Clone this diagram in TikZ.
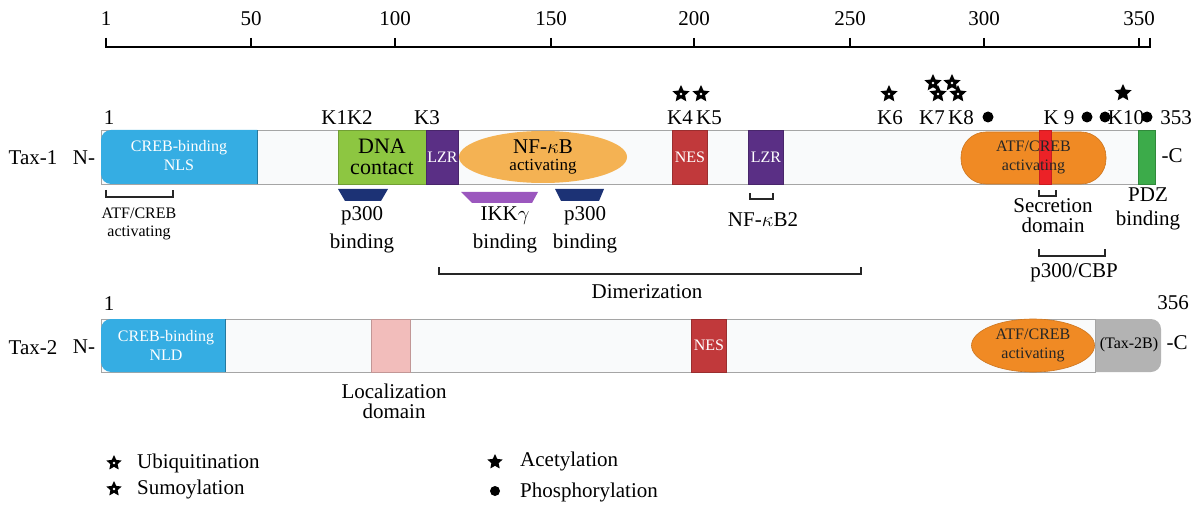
\documentclass[tikz,border=0pt]{standalone}
\usepackage{fontspec}
\setmainfont{Liberation Serif}
\usetikzlibrary{shapes.geometric,shapes.misc}
\definecolor{creb}{HTML}{35ADE3}
\definecolor{dna}{HTML}{8DC641}
\definecolor{lzr}{HTML}{5A2F85}
\definecolor{nfkb}{HTML}{F4B253}
\definecolor{nes}{HTML}{C1393B}
\definecolor{atf}{HTML}{F08A24}
\definecolor{secr}{HTML}{EC2227}
\definecolor{pdz}{HTML}{3CAB4A}
\definecolor{navy}{HTML}{1C3275}
\definecolor{ikk}{HTML}{9B57BE}
\definecolor{loc}{HTML}{F2BDBB}
\definecolor{tbb}{HTML}{B3B3B3}
\definecolor{barfill}{HTML}{F9FAFB}
\definecolor{barline}{HTML}{A5A5A5}
\newcommand\fMain{\fontsize{21}{26}\selectfont}
\newcommand\fSmall{\fontsize{16}{19}\selectfont}
\tikzset{
  segbox/.style={rectangle, inner sep=0pt, minimum height=54pt, line width=0.8pt},
  lbl/.style={inner sep=0pt, align=center},
  wtxt/.style={text=white, font=\fSmall, align=center, inner sep=0pt},
  ubq/.style={star, star points=5, star point ratio=2.1, fill=black, minimum size=18pt, inner sep=0pt},
  ubqin/.style={circle, fill=white, minimum size=2.6pt, inner sep=0pt},
  acet/.style={star, star points=5, star point ratio=2.1, fill=black, minimum size=18pt, inner sep=0pt},
  phos/.style={circle, fill=black, minimum size=11pt, inner sep=0pt},
  brk/.style={line width=1.2pt, black!85},
  axis/.style={line width=1.4pt, black},
}
\begin{document}
\begin{tikzpicture}[x=1pt, y=-1pt, font=\fMain]
\useasboundingbox (0,0) rectangle (1199,505);

% ---------- scale axis ----------
\draw[axis] (106,38) -- (106,47) -- (1150,47) -- (1150,38);
\foreach \x/\l in {106/1, 251/50, 395/100, 551/150, 694/200, 850/250, 984/300, 1139/350}{
  \draw[axis] (\x,38) -- (\x,47);
  \node[lbl] (tick\l) at (\x,19) {\l};
}

% ---------- Tax-1 ----------
\node[lbl] (tax1) at (33,158) {Tax-1};
\node[lbl] (n1) at (84,158) {N-};
\node[segbox, anchor=north west, draw=barline, fill=barfill, line width=1.2pt,
      minimum width=1037pt] (bar1) at (101,130) {};
\fill[creb] (257,130) [rounded corners=10pt] -- (101,130) -- (101,184) [sharp corners] -- (257,184) -- cycle;
\draw[creb!70!black, line width=0.8pt] (257,130) -- (257,184);
\node[wtxt] (nls) at (179,156) {CREB-binding\\NLS};
\node[segbox, anchor=west, fill=dna, draw=dna!80!black, minimum width=88pt] (dnac) at (338,157) {};
\node[lbl, font=\fontsize{22}{21}\selectfont] (dnat) at (382,157) {DNA\\contact};
\node[segbox, anchor=west, fill=lzr, draw=lzr!80!black, minimum width=32pt] (lzr1) at (426,157) {};
\node[wtxt] at (lzr1) {LZR};
\node[ellipse, fill=nfkb, minimum width=168pt, minimum height=52pt, inner sep=0pt] (nfkb) at (543,157) {};
\node[lbl, font=\fontsize{21}{20}\selectfont] (nfkbt) at (543,147) {NF-$\kappa$B};
\node[lbl, font=\fontsize{17}{17}\selectfont] (nfkba) at (543,167) {activating};
\node[segbox, anchor=west, fill=nes, draw=nes!80!black, minimum width=35pt] (nes1) at (672,157) {};
\node[wtxt] at (nes1) {NES};
\node[segbox, anchor=west, fill=lzr, draw=lzr!80!black, minimum width=35pt] (lzr2) at (748,157) {};
\node[wtxt] at (lzr2) {LZR};
\node[rectangle, rounded corners=25pt, fill=atf, draw=atf!85!black, line width=0.6pt,
      minimum width=145pt, minimum height=52pt, inner sep=0pt] (atf1) at (1033.5,158) {};
\node[segbox, anchor=west, fill=secr, draw=secr!85!black, minimum width=12pt] (secr) at (1039,157) {};
\node[lbl, font=\fSmall, text=black!85] (atf1t) at (1033.5,157) {ATF/CREB\\activating};
\node[segbox, anchor=west, fill=pdz, draw=pdz!80!black, minimum width=17pt] (pdz) at (1138,157) {};
\node[lbl] (c1) at (1172,156) {-C};

% labels above Tax-1
\node[lbl] (one1) at (109,118) {1};
\node[lbl] (k12) at (347,118) {K1K2};
\node[lbl] (k3) at (427,118) {K3};
\node[lbl] (k4) at (680,118) {K4};
\node[lbl] (k5) at (709,118) {K5};
\node[lbl] (k6) at (890,118) {K6};
\node[lbl] (k7) at (932,118) {K7};
\node[lbl] (k8) at (961,118) {K8};
\node[lbl] (k9) at (1059,118) {K 9};
\node[lbl] (k10) at (1126,118) {K10};
\node[lbl] (e353) at (1176,118) {353};

% modification marks
\foreach \n/\x/\y in {a/681/94, b/701/94, c/889/94, d/933/83, e/952/83, f/938/94, g/958/94}{
  \node[ubq] (st\n) at (\x,\y) {};
  \node[ubqin] at (st\n.center) {};
}
\node[acet] (stk10) at (1123,93) {};
\foreach \n/\x in {1/988, 2/1087, 3/1105, 4/1147}{
  \node[phos] (ph\n) at (\x,117) {};
}

% below Tax-1
\fill[navy] (338,189) -- (388,189) -- (381,201) -- (345,201) -- cycle;
\fill[ikk] (461,192) -- (538,192) -- (532,203) -- (472,203) -- cycle;
\fill[navy] (555,189) -- (604,189) -- (599,201) -- (561,201) -- cycle;
\node[lbl, font=\fontsize{21}{28}\selectfont] (p300a) at (362,230) {p300\\binding};
\node[lbl, font=\fontsize{21}{28}\selectfont] (ikkg) at (505,230) {IKK$\gamma$\\binding};
\node[lbl, font=\fontsize{21}{28}\selectfont] (p300b) at (585,230) {p300\\binding};

\draw[brk] (106,190) -- (106,197) -- (173,197) -- (173,190);
\node[lbl, font=\fontsize{16}{18}\selectfont] (atfl) at (139,224) {ATF/CREB\\activating};

\draw[brk] (750,193) -- (750,199) -- (773,199) -- (773,193);
\node[lbl] (nfkb2) at (763,220) {NF-$\kappa$B2};

\draw[brk] (1039,190) -- (1039,196) -- (1056,196) -- (1056,190);
\node[lbl, font=\fontsize{21}{20}\selectfont] (secd) at (1053,216) {Secretion\\domain};

\node[lbl, font=\fontsize{21}{24}\selectfont] (pdzb) at (1148,209) {PDZ\\binding};

\draw[brk] (1039,249) -- (1039,256) -- (1105,256) -- (1105,249);
\node[lbl] (p300cbp) at (1074,273) {p300/CBP};

\draw[brk] (439,267) -- (439,274) -- (861,274) -- (861,267);
\node[lbl] (dimer) at (647,292) {Dimerization};

% ---------- Tax-2 ----------
\node[lbl] (one2) at (109,304) {1};
\node[lbl] (e356) at (1173,303) {356};
\node[lbl] (tax2) at (33,348) {Tax-2};
\node[lbl] (n2) at (84,347) {N-};
\node[segbox, anchor=north west, draw=barline, fill=barfill, line width=1.2pt,
      minimum width=994pt, minimum height=53pt] (bar2) at (101,319) {};
\fill[creb] (225,319) [rounded corners=10pt] -- (101,319) -- (101,372) [sharp corners] -- (225,372) -- cycle;
\draw[creb!70!black, line width=0.8pt] (225,319) -- (225,372);
\node[wtxt] (nld) at (166,345) {CREB-binding\\NLD};
\node[segbox, anchor=west, fill=loc, draw=loc!80!black, minimum width=39pt, minimum height=53pt] (locd) at (371,345.5) {};
\node[segbox, anchor=west, fill=nes, draw=nes!80!black, minimum width=35pt, minimum height=53pt] (nes2) at (691,345.5) {};
\node[wtxt] at (nes2) {NES};
\node[ellipse, fill=atf, draw=atf!85!black, line width=0.6pt, minimum width=123pt, minimum height=53pt, inner sep=0pt] (atf2) at (1033,345.5) {};
\node[lbl, font=\fSmall, text=black!85] at (atf2) {ATF/CREB\\activating};
\fill[tbb] (1095,319) [rounded corners=10pt] -- (1161,319) -- (1161,372) [sharp corners] -- (1095,372) -- cycle;
\draw[barline, line width=0.8pt] (1095,319) -- (1095,372);
\node[lbl, font=\fSmall] (tax2b) at (1129,345) {(Tax-2B)};
\node[lbl] (c2) at (1177,343) {-C};
\node[lbl, font=\fontsize{21}{20}\selectfont] (locl) at (394,401) {Localization\\domain};

% ---------- legend ----------
\node[ubq, minimum size=16pt] (lg1) at (114,463) {};
\node[ubqin] at (lg1.center) {};
\node[ubq, minimum size=16pt] (lg2) at (114,489) {};
\node[ubqin] at (lg2.center) {};
\node[lbl, anchor=west] (lt1) at (137,463) {Ubiquitination};
\node[lbl, anchor=west] (lt2) at (137,489) {Sumoylation};
\node[acet, minimum size=16pt] (lg3) at (495,462) {};
\node[phos, minimum size=10pt] (lg4) at (495,491) {};
\node[lbl, anchor=west] (lt3) at (520,461) {Acetylation};
\node[lbl, anchor=west] (lt4) at (520,492) {Phosphorylation};
\end{tikzpicture}
\end{document}
